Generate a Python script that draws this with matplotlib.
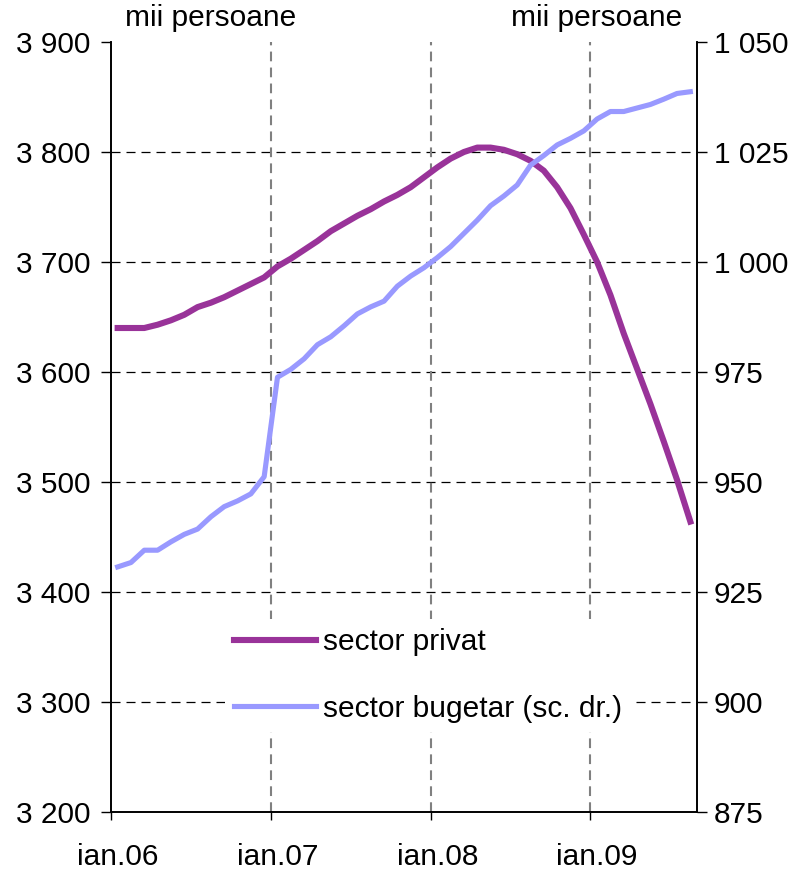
import matplotlib
matplotlib.use("Agg")
import matplotlib.pyplot as plt
import numpy as np

plt.rcParams['font.family'] = ['Liberation Sans', 'DejaVu Sans']
plt.rcParams['lines.scale_dashes'] = False

# Monthly series, Jan 2006 - Aug 2009 (thousand persons)
months = ["ian.06", "feb.06", "mar.06", "apr.06", "mai.06", "iun.06", "iul.06", "aug.06",
          "sep.06", "oct.06", "nov.06", "dec.06",
          "ian.07", "feb.07", "mar.07", "apr.07", "mai.07", "iun.07", "iul.07", "aug.07",
          "sep.07", "oct.07", "nov.07", "dec.07",
          "ian.08", "feb.08", "mar.08", "apr.08", "mai.08", "iun.08", "iul.08", "aug.08",
          "sep.08", "oct.08", "nov.08", "dec.08",
          "ian.09", "feb.09", "mar.09", "apr.09", "mai.09", "iun.09", "iul.09", "aug.09"]

sector_privat = [3640, 3640, 3640, 3643, 3647, 3652, 3659, 3663, 3668, 3674, 3680, 3686,
                 3696, 3703, 3711, 3719, 3728, 3735, 3742, 3748, 3755, 3761, 3768, 3777,
                 3786, 3794, 3800, 3804, 3804, 3802, 3798, 3792, 3783, 3768, 3749, 3725,
                 3700, 3670, 3635, 3603, 3571, 3537, 3502, 3464]

sector_bugetar = [930.7, 931.7, 934.5, 934.5, 936.4, 938.1, 939.3, 942.1, 944.4, 945.7, 947.3, 951.2,
                  973.8, 975.6, 978.0, 981.2, 983.0, 985.5, 988.2, 989.8, 991.1, 994.5, 996.8, 998.7,
                  1001.0, 1003.5, 1006.5, 1009.5, 1012.8, 1015.0, 1017.5, 1022.0, 1024.2, 1026.6, 1028.1, 1029.8,
                  1032.5, 1034.2, 1034.2, 1035.0, 1035.8, 1037.0, 1038.3, 1038.7]

left_ticks = [3200, 3300, 3400, 3500, 3600, 3700, 3800, 3900]
right_ticks = [875, 900, 925, 950, 975, 1000, 1025, 1050]
year_labels = ["ian.06", "ian.07", "ian.08", "ian.09"]

label_privat = "sector privat"
label_bugetar = "sector bugetar (sc. dr.)"
unit = "mii persoane"

c_privat = "#993399"
c_bugetar = "#9999FF"
FS = 21.5


def fmt_thousands(v):
    return f"{int(v):,}".replace(",", " ")


fig = plt.figure(figsize=(7.97, 8.69), dpi=100)
ax = fig.add_axes([111 / 797, 1 - 812 / 869, (697 - 111) / 797, (812 - 42) / 869])
ax2 = ax.twinx()

x = np.arange(len(months))
n = len(months)

ln1, = ax.plot(x, sector_privat, color=c_privat, lw=4.4, zorder=3)
ln2, = ax2.plot(x, sector_bugetar, color=c_bugetar, lw=3.7, zorder=3)

ax.set_xlim(-0.5, n - 0.5)
ax.set_ylim(left_ticks[0], left_ticks[-1])
ax2.set_ylim(right_ticks[0], right_ticks[-1])

# horizontal grid (inner ticks only)
for v in left_ticks[1:-1]:
    ax.axhline(v, color="black", lw=0.9, linestyle=(0, (6.5, 4.3)), zorder=1)

# year boundaries: tick marks and vertical grid
year_idx = [months.index(lbl) for lbl in year_labels]
bounds = [i - 0.5 for i in year_idx]
for b in bounds[1:]:
    ax.axvline(b, color="#808080", lw=1.5, linestyle=(0, (7, 4.5)), zorder=1)

ax.set_xticks(bounds)
ax.set_xticklabels([])
ax.set_xticks(year_idx, minor=True)
ax.set_xticklabels(year_labels, minor=True, fontsize=FS)
ax.tick_params(axis='x', which='major', direction='out', length=6, width=1)
ax.tick_params(axis='x', which='minor', length=0, pad=22)

ax.set_yticks(left_ticks)
ax.set_yticklabels([fmt_thousands(v) for v in left_ticks], fontsize=FS)
ax.tick_params(axis='y', direction='out', length=7, width=1, pad=8)

ax2.set_yticks(right_ticks)
ax2.set_yticklabels([fmt_thousands(v) for v in right_ticks], fontsize=FS)
ax2.tick_params(axis='y', direction='out', length=7, width=1, pad=5)

for a in (ax, ax2):
    a.spines['top'].set_visible(False)
    for s in ('left', 'right', 'bottom'):
        a.spines[s].set_linewidth(1.2)
        a.spines[s].set_color('black')

fig.text(125 / 797, 1 - 18 / 869, unit, fontsize=FS, ha='left', va='center')
fig.text(682 / 797, 1 - 18 / 869, unit, fontsize=FS, ha='right', va='center')

leg = ax2.legend([ln1, ln2], [label_privat, label_bugetar], loc='upper left',
                 bbox_to_anchor=((225 - 111) / 586, (812 - 619) / 770),
                 frameon=True, fancybox=False, facecolor='white', edgecolor='none',
                 framealpha=1, borderpad=0.3,
                 fontsize=FS, handlelength=2.75, handletextpad=0.22,
                 labelspacing=1.3, borderaxespad=0)
leg.set_zorder(5)

fig.savefig("out.png", dpi=100)
